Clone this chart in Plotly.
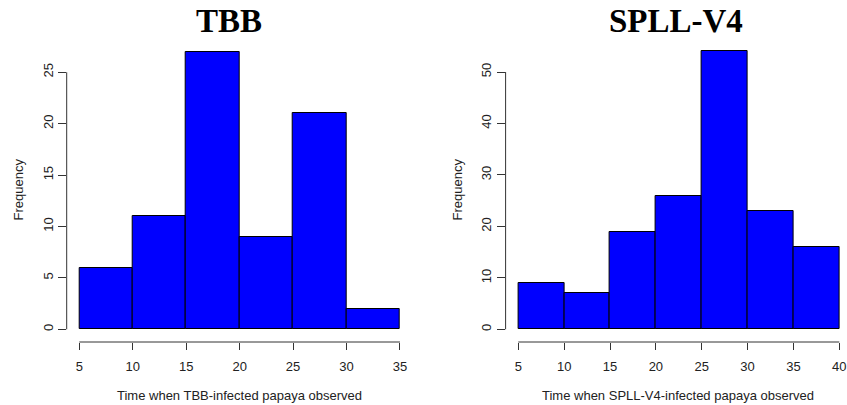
import plotly.graph_objects as go

# ---- data ----
tbb_edges = [5, 10, 15, 20, 25, 30, 35]
tbb_counts = [6, 11, 27, 9, 21, 2]
tbb_xticks = [5, 10, 15, 20, 25, 30, 35]
tbb_yticks = [0, 5, 10, 15, 20, 25]

spll_edges = [5, 10, 15, 20, 25, 30, 35, 40]
spll_counts = [9, 7, 19, 26, 54, 23, 16]
spll_xticks = [5, 10, 15, 20, 25, 30, 35, 40]
spll_yticks = [0, 10, 20, 30, 40, 50]

titles = ["TBB", "SPLL-V4"]
xlabels = ["Time when TBB-infected papaya observed",
           "Time when SPLL-V4-infected papaya observed"]
ylabel = "Frequency"

W, H = 847, 405
AX = "#333333"
TXT = "#222222"
FONT = "Liberation Sans, Arial, sans-serif"


def px2paper_x(p):
    return p / W


def px2paper_y(p):
    return 1 - p / H


def bars(edges, counts, xa, ya):
    mids = [(a + b) / 2 for a, b in zip(edges[:-1], edges[1:])]
    widths = [b - a for a, b in zip(edges[:-1], edges[1:])]
    return go.Bar(x=mids, y=counts, width=widths, xaxis=xa, yaxis=ya,
                  marker=dict(color="#0000FF", line=dict(color="#000000", width=1)),
                  showlegend=False, hoverinfo="x+y")


fig = go.Figure()
fig.add_trace(bars(tbb_edges, tbb_counts, "x", "y"))
fig.add_trace(bars(spll_edges, spll_counts, "x2", "y2"))

ydom = [px2paper_y(342), px2paper_y(40)]

common_x = dict(showline=False, showgrid=False, zeroline=False, ticks="outside",
                ticklen=7, tickwidth=1, tickcolor=AX, ticklabelstandoff=5,
                tickfont=dict(family=FONT, size=13, color=TXT))
common_y = dict(showline=False, showgrid=False, zeroline=False, ticks="outside",
                ticklen=8, tickwidth=1, tickcolor=AX, tickangle=-90,
                tickfont=dict(family=FONT, size=13, color=TXT))

fig.update_layout(
    width=W, height=H,
    margin=dict(l=0, r=0, t=0, b=0),
    paper_bgcolor="white", plot_bgcolor="white",
    bargap=0,
    xaxis=dict(domain=[px2paper_x(66.7), px2paper_x(413)], range=[3.82, 36.22],
               tickvals=tbb_xticks, anchor="y", **common_x),
    yaxis=dict(domain=ydom, range=[-1.235, 28.14], tickvals=tbb_yticks,
               anchor="x", **common_y),
    xaxis2=dict(domain=[px2paper_x(505.6), 1.0], range=[3.615, 40.84],
                tickvals=spll_xticks, anchor="y2", **common_x),
    yaxis2=dict(domain=ydom, range=[-2.468, 56.22], tickvals=spll_yticks,
                anchor="x2", **common_y),
)

shapes = []
for xa, ya, xt, yt in [("x", "y", tbb_xticks, tbb_yticks),
                       ("x2", "y2", spll_xticks, spll_yticks)]:
    shapes.append(dict(type="line", xref=xa, yref=f"{ya} domain",
                       x0=min(xt), x1=max(xt), y0=0, y1=0,
                       line=dict(color=AX, width=1)))
    shapes.append(dict(type="line", xref=f"{xa} domain", yref=ya,
                       x0=0, x1=0, y0=min(yt), y1=max(yt),
                       line=dict(color=AX, width=1)))
fig.update_layout(shapes=shapes)

ann = []
for t, cx in zip(titles, [229, 676]):
    ann.append(dict(text=f"<b>{t}</b>", x=px2paper_x(cx), y=px2paper_y(21),
                    xref="paper", yref="paper", showarrow=False,
                    xanchor="center", yanchor="middle",
                    font=dict(family="Liberation Serif, Times New Roman, serif",
                              size=33, color="black")))
for t, cx in zip(xlabels, [239, 678]):
    ann.append(dict(text=t, x=px2paper_x(cx), y=px2paper_y(395),
                    xref="paper", yref="paper", showarrow=False,
                    xanchor="center", yanchor="middle",
                    font=dict(family=FONT, size=13, color=TXT)))
for cx in [17.5, 456.5]:
    ann.append(dict(text=ylabel, x=px2paper_x(cx), y=px2paper_y(190),
                    xref="paper", yref="paper", showarrow=False, textangle=-90,
                    xanchor="center", yanchor="middle",
                    font=dict(family=FONT, size=13, color=TXT)))
fig.update_layout(annotations=ann)

fig.write_html("out.html",
               config={"displayModeBar": False},
               post_script="document.body.style.margin='0';document.body.style.overflow='hidden';")
